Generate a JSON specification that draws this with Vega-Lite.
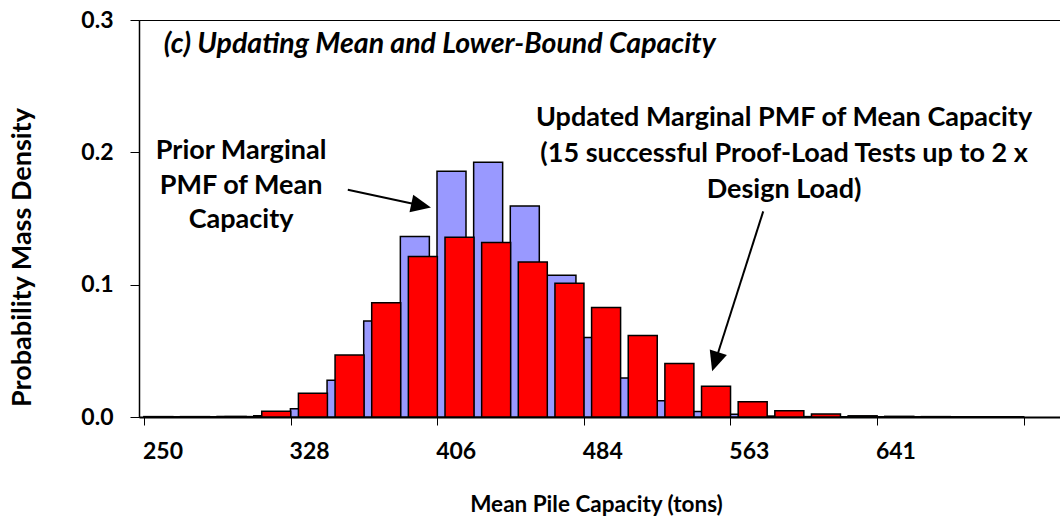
{
  "$schema": "https://vega.github.io/schema/vega-lite/v6.json",
  "width": 925,
  "height": 397,
  "autosize": {"type": "none"},
  "padding": {"left": 139, "top": 20, "right": 0, "bottom": 103},
  "background": "white",
  "config": {
    "view": {"stroke": "black", "strokeWidth": 1},
    "font": "Lato"
  },
  "datasets": {
    "pmf": [
      {"capacity": 250, "prior": 0.0003, "updated": 0.0002},
      {"capacity": 269.54, "prior": 0.0003, "updated": 0.0002},
      {"capacity": 289.08, "prior": 0.0004, "updated": 0.0003},
      {"capacity": 308.62, "prior": 0.001, "updated": 0.0043},
      {"capacity": 328.16, "prior": 0.0063, "updated": 0.0179},
      {"capacity": 347.7, "prior": 0.0277, "updated": 0.0468},
      {"capacity": 367.24, "prior": 0.0725, "updated": 0.0864},
      {"capacity": 386.78, "prior": 0.1364, "updated": 0.1213},
      {"capacity": 406.32, "prior": 0.1857, "updated": 0.1358},
      {"capacity": 425.86, "prior": 0.1926, "updated": 0.1319},
      {"capacity": 445.4, "prior": 0.1594, "updated": 0.1172},
      {"capacity": 464.94, "prior": 0.1072, "updated": 0.1011},
      {"capacity": 484.48, "prior": 0.06, "updated": 0.0827},
      {"capacity": 504.02, "prior": 0.0295, "updated": 0.0615},
      {"capacity": 523.56, "prior": 0.0122, "updated": 0.0405},
      {"capacity": 543.1, "prior": 0.0042, "updated": 0.0232},
      {"capacity": 562.64, "prior": 0.002, "updated": 0.0115},
      {"capacity": 582.18, "prior": 0.0007, "updated": 0.0047},
      {"capacity": 601.72, "prior": 0.0003, "updated": 0.0022},
      {"capacity": 621.26, "prior": 0.0002, "updated": 0.0009},
      {"capacity": 640.8, "prior": 0.0002, "updated": 0.0005},
      {"capacity": 660.34, "prior": 0.0002, "updated": 0.0003},
      {"capacity": 679.88, "prior": 0.0002, "updated": 0.0002},
      {"capacity": 699.42, "prior": 0.0002, "updated": 0.0002}
    ],
    "notes": [
      {"label": "Prior Marginal", "nx": 292.0, "ny": 0.2008},
      {"label": "PMF of Mean", "nx": 292.0, "ny": 0.1748},
      {"label": "Capacity", "nx": 292.0, "ny": 0.1486},
      {"label": "Updated Marginal PMF of Mean Capacity", "nx": 581.5, "ny": 0.2262},
      {"label": "(15 successful Proof-Load Tests up to 2 x", "nx": 581.5, "ny": 0.199},
      {"label": "Design Load)", "nx": 581.5, "ny": 0.1718}
    ],
    "heading": [
      {"label": "(c) Updating Mean and Lower-Bound Capacity", "nx": 250.8, "ny": 0.2821}
    ],
    "arrows": [
      {"x0": 348.9, "y0": 0.1718, "x1": 388.0, "y1": 0.1598, "angle": 102},
      {"x0": 570.4, "y0": 0.1554, "x1": 544.8, "y1": 0.0418, "angle": 198}
    ]
  },
  "layer": [
    {
      "data": {"name": "pmf"},
      "mark": {"type": "bar", "width": 29, "xOffset": -4, "fill": "#9999FF", "stroke": "black", "strokeWidth": 1.5},
      "encoding": {
        "x": {
          "field": "capacity", "type": "quantitative",
          "scale": {"domain": [240.23, 728.1], "nice": false, "zero": false},
          "axis": {
            "title": "Mean Pile Capacity (tons)",
            "values": [240.23, 318.39, 396.55, 474.71, 552.87, 631.03, 709.19],
            "labelExpr": "datum.value > 700 ? '' : format(datum.value + 9.77, '.0f')",
            "labelOffset": 18.5,
            "labelAlign": "center",
            "labelFont": "Lato", "labelFontSize": 23, "labelFontWeight": "bold", "labelColor": "black",
            "labelPadding": 15,
            "tickSize": 8, "tickColor": "black", "tickWidth": 1,
            "domainColor": "black", "domainWidth": 2,
            "grid": false,
            "titleFont": "Lato", "titleFontSize": 22.5, "titleFontWeight": "bold", "titleColor": "black",
            "titlePadding": 30, "titleX": 457
          }
        },
        "y": {
          "field": "prior", "type": "quantitative",
          "scale": {"domain": [0, 0.3], "nice": false},
          "axis": {
            "title": "Probability Mass Density",
            "values": [0, 0.1, 0.2, 0.3],
            "format": ".1f",
            "labelFont": "Lato", "labelFontSize": 23, "labelFontWeight": "bold", "labelColor": "black",
            "labelPadding": 17,
            "tickSize": 9, "tickColor": "black", "tickWidth": 1,
            "domainColor": "black", "domainWidth": 1.5,
            "grid": false,
            "titleFont": "Lato", "titleFontSize": 27, "titleFontWeight": "bold", "titleColor": "black",
            "titleX": -116.5, "titleY": 237, "titleAngle": -90, "titleAlign": "center", "titleBaseline": "middle"
          }
        }
      }
    },
    {
      "data": {"name": "pmf"},
      "mark": {"type": "bar", "width": 29, "xOffset": 4, "fill": "#FF0000", "stroke": "black", "strokeWidth": 1.5},
      "encoding": {
        "x": {"field": "capacity", "type": "quantitative", "scale": {"domain": [240.23, 728.1], "nice": false, "zero": false}},
        "y": {"field": "updated", "type": "quantitative", "scale": {"domain": [0, 0.3], "nice": false}}
      }
    },
    {
      "data": {"name": "arrows"},
      "mark": {"type": "rule", "color": "black", "strokeWidth": 2},
      "encoding": {
        "x": {"field": "x0", "type": "quantitative", "scale": {"domain": [240.23, 728.1], "nice": false, "zero": false}},
        "x2": {"field": "x1"},
        "y": {"field": "y0", "type": "quantitative", "scale": {"domain": [0, 0.3], "nice": false}},
        "y2": {"field": "y1"}
      }
    },
    {
      "data": {"name": "arrows"},
      "mark": {"type": "point", "shape": "M0,-1L0.9,1L-0.9,1Z", "filled": true, "color": "black", "size": 400, "opacity": 1},
      "encoding": {
        "x": {"field": "x1", "type": "quantitative", "scale": {"domain": [240.23, 728.1], "nice": false, "zero": false}},
        "y": {"field": "y1", "type": "quantitative", "scale": {"domain": [0, 0.3], "nice": false}},
        "angle": {"field": "angle", "type": "quantitative", "scale": null}
      }
    },
    {
      "data": {"name": "notes"},
      "mark": {"type": "text", "font": "Lato", "fontSize": 27, "fontWeight": "bold", "color": "black", "align": "center", "baseline": "middle"},
      "encoding": {
        "x": {"field": "nx", "type": "quantitative", "scale": {"domain": [240.23, 728.1], "nice": false, "zero": false}},
        "y": {"field": "ny", "type": "quantitative", "scale": {"domain": [0, 0.3], "nice": false}},
        "text": {"field": "label"}
      }
    },
    {
      "data": {"name": "heading"},
      "mark": {"type": "text", "font": "Lato", "fontSize": 28.5, "fontStyle": "italic", "fontWeight": "bold", "color": "black", "align": "left", "baseline": "middle"},
      "encoding": {
        "x": {"field": "nx", "type": "quantitative", "scale": {"domain": [240.23, 728.1], "nice": false, "zero": false}},
        "y": {"field": "ny", "type": "quantitative", "scale": {"domain": [0, 0.3], "nice": false}},
        "text": {"field": "label"}
      }
    }
  ]
}
